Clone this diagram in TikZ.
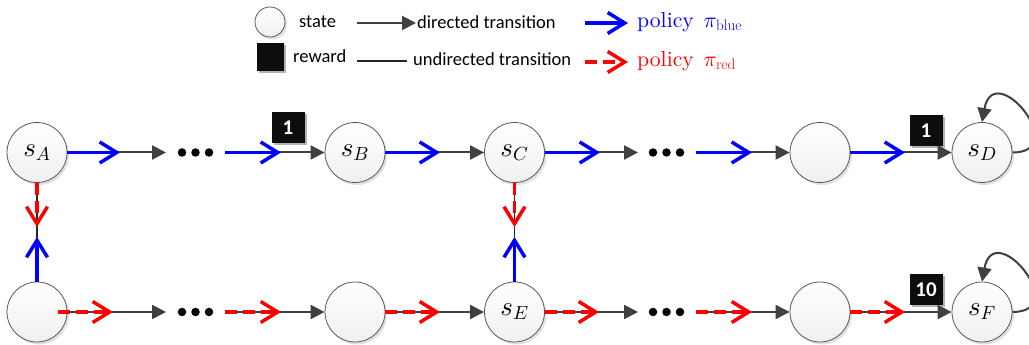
\documentclass[tikz,border=0pt]{standalone}
\usepackage{fix-cm}
\usepackage{fontspec}
\DeclareFontShape{OML}{cmm}{m}{it}{<->cmmi10}{\skewchar\font=127}
\newfontfamily\carl{Carlito}
\newfontfamily\lmten{lmroman10-regular}[Extension=.otf]
\usetikzlibrary{arrows.meta,shadows}
\definecolor{tgray}{HTML}{404040}
\tikzset{
  st/.style={circle, minimum size=60pt, inner sep=0pt, draw=black!65, line width=0.8pt,
    top color=white, bottom color=black!6,
    drop shadow={shadow xshift=2pt,shadow yshift=-2.5pt,fill=black,opacity=0.12},
    font=\fontsize{27}{29}\selectfont},
  tr/.style={draw=tgray, line width=2pt, -{Triangle[length=14pt,width=14pt]}},
  ud/.style={draw=black!85, line width=1.8pt},
  bp/.style={draw=blue, line width=3.5pt, -{Straight Barb[length=17pt,width=21pt]}},
  rp/.style={draw=red, line width=3.5pt, dash pattern=on 12pt off 6pt, -{Straight Barb[length=17pt,width=21pt]}},
  rw/.style={fill=black!95, minimum width=33pt, minimum height=31pt, inner sep=0pt, text=white,
    font=\carl\bfseries\fontsize{21}{21}\selectfont,
    drop shadow={shadow xshift=2pt,shadow yshift=-2pt,fill=black,opacity=0.3}},
  dot/.style={circle, fill=black, inner sep=0pt, minimum size=8.5pt},
  lt/.style={anchor=west, inner sep=0pt, font=\carl\fontsize{18.5}{20}\selectfont},
  pt/.style={anchor=west, inner sep=0pt, font=\lmten\fontsize{21.7}{24}\selectfont},
}
\begin{document}
\begin{tikzpicture}[x=1pt,y=1pt]
\useasboundingbox[fill=white] (0,0) rectangle (1029,345);
% legend
\node[st, minimum size=30pt] (lstate) at (270,323) {};
\node[lt] (tstate) at (299,323) {state};
\coordinate (la1) at (357,322);
\coordinate (la2) at (416,322);
\draw[tr] (la1) -- (la2);
\node[lt] (tdir) at (417,323) {directed transition};
\coordinate (lb1) at (585,322);
\coordinate (lb2) at (628,322);
\draw[bp] (lb1) -- (lb2);
\node[pt, text=blue] (tpb) at (637,323) {policy\hspace{0.45em}$\pi_{\mathrm{blue}}$};
\node[rw, minimum width=27pt, minimum height=28pt] (lrew) at (270,288) {};
\node[lt] (trew) at (293,289) {reward};
\coordinate (lu1) at (357,284);
\coordinate (lu2) at (407,284);
\draw[ud] (lu1) -- (lu2);
\node[lt] (tund) at (413,286) {undirected transition};
\coordinate (lr1) at (585,283);
\coordinate (lr2) at (628,283);
\draw[rp] (lr1) -- (lr2);
\node[pt, text=red] (tpr) at (637,284) {policy\hspace{0.45em}$\pi_{\mathrm{red}}$};
% states
\node[st] (sA) at (37,192.5) {$s_A$};
\node[st] (sB) at (355,192.5) {$s_B$};
\node[st] (sC) at (514.5,192.5) {$s_C$};
\node[st] (n4) at (820,192.5) {};
\node[st] (sD) at (982,192.5) {$s_D$};
\node[st] (b1) at (37,33) {};
\node[st] (b2) at (355,33) {};
\node[st] (sE) at (514.5,33) {$s_E$};
\node[st] (b4) at (820,33) {};
\node[st] (sF) at (982,33) {$s_F$};
% dots
\foreach \r/\y in {t/192.5,b/33}{
  \node[dot] (d1\r) at (182,\y) {};
  \node[dot] (d2\r) at (195.5,\y) {};
  \node[dot] (d3\r) at (209,\y) {};
  \node[dot] (e1\r) at (653,\y) {};
  \node[dot] (e2\r) at (666.5,\y) {};
  \node[dot] (e3\r) at (680,\y) {};
  \coordinate (g1\r) at (166,\y);
  \coordinate (g2\r) at (225,\y);
  \coordinate (g3\r) at (638,\y);
  \coordinate (g4\r) at (696,\y);
}
% rewards
\node[rw] (r1) at (288,217) {1};
\node[rw] (r2) at (926,214.5) {1};
\node[rw] (r3) at (926,55.5) {10};
% gray transitions
\foreach \r/\p/\q/\s/\u/\v in {t/sA/sB/sC/n4/sD, b/b1/b2/sE/b4/sF}{
  \draw[tr] (\p) -- (g1\r);
  \draw[tr] (g2\r) -- (\q);
  \draw[tr] (\q) -- (\s);
  \draw[tr] (\s) -- (g3\r);
  \draw[tr] (g4\r) -- (\u);
  \draw[tr] (\u) -- (\v);
}
% self loops
\draw[tr] (sD.east) .. controls +(60,0) and +(12,65) .. (sD.north);
\draw[tr] (sF.east) .. controls +(60,0) and +(12,65) .. (sF.north);
% vertical undirected
\draw[ud] (sA) -- (b1);
\draw[ud] (sC) -- (sE);
% blue policy
\coordinate (bt1) at (120,192.5);
\coordinate (bt2) at (281,192.5);
\coordinate (bt3) at (440,192.5);
\coordinate (bt4) at (600,192.5);
\coordinate (bt5) at (752,192.5);
\coordinate (bt6) at (905,192.5);
\draw[bp] (sA.east) -- (bt1);
\draw[bp] (g2t) -- (bt2);
\draw[bp] (sB.east) -- (bt3);
\draw[bp] (sC.east) -- (bt4);
\draw[bp] (g4t) -- (bt5);
\draw[bp] (n4.east) -- (bt6);
\coordinate (bv1) at (37,108);
\coordinate (bv2) at (514.5,108);
\draw[bp] (b1.north) -- (bv1);
\draw[bp] (sE.north) -- (bv2);
% red policy
\coordinate (rt0) at (58,33);
\coordinate (rt1) at (113,33);
\coordinate (rt2) at (281,33);
\coordinate (rt3) at (440,33);
\coordinate (rt4) at (599,33);
\coordinate (rt5) at (752,33);
\coordinate (rt6) at (905,33);
\draw[rp] (rt0) -- (rt1);
\draw[rp] (g2b) -- (rt2);
\draw[rp] (b2.east) -- (rt3);
\draw[rp] (sE.east) -- (rt4);
\draw[rp] (g4b) -- (rt5);
\draw[rp] (b4.east) -- (rt6);
\coordinate (rv1) at (37,118);
\coordinate (rv2) at (514.5,118);
\draw[rp] (sA.south) -- (rv1);
\draw[rp] (sC.south) -- (rv2);
\end{tikzpicture}
\end{document}
